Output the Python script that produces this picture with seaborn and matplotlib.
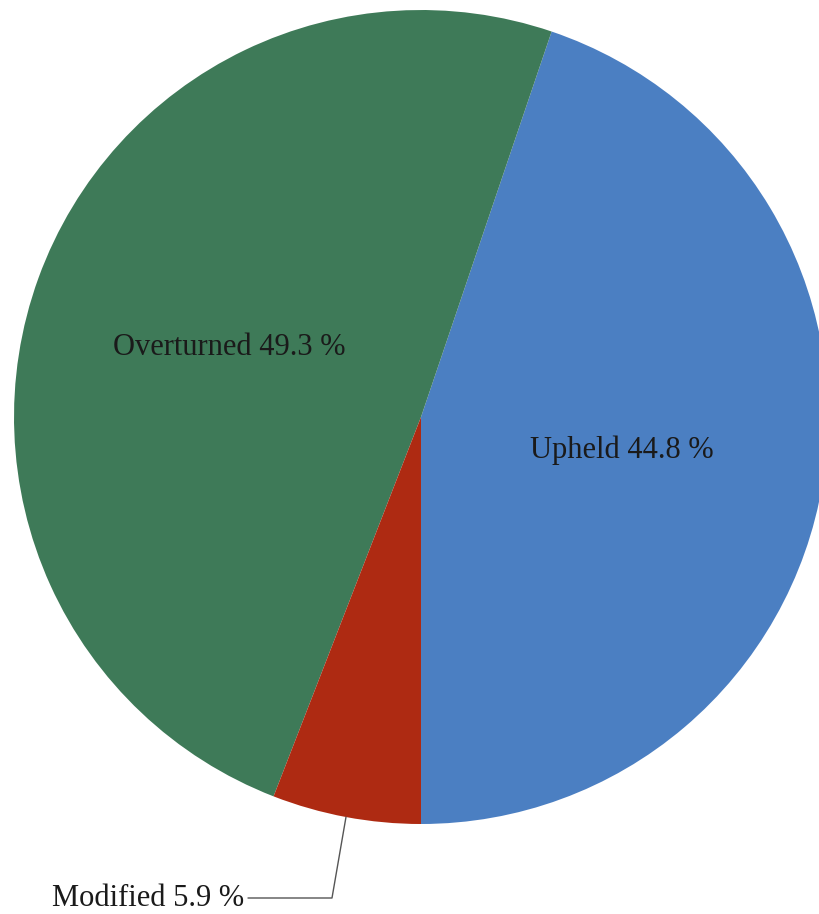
import numpy as np
import matplotlib
matplotlib.use("Agg")
import matplotlib.pyplot as plt
import seaborn as sns

sns.set_theme(style="white")
plt.rcParams['font.family'] = ['Liberation Serif', 'DejaVu Serif']

# data
categories = ["Upheld", "Overturned", "Modified"]
shares = [44.8, 49.3, 5.9]
colours = ["#4b7fc2", "#3e7a58", "#ae2a12"]

W, H = 819, 914
cx, cy, r = 421, H - 417, 407

fig = plt.figure(figsize=(W / 100, H / 100), dpi=100)
ax = fig.add_axes([0, 0, 1, 1])

wedges, _ = ax.pie(shares, colors=colours, startangle=270, counterclock=True,
                   center=(cx, cy), radius=r, wedgeprops=dict(linewidth=0))
ax.set_xlim(0, W)
ax.set_ylim(0, H)
ax.set_aspect("equal")
ax.axis("off")

for w, name, val in zip(wedges, categories, shares):
    mid = np.deg2rad((w.theta1 + w.theta2) / 2)
    txt = f"{name} {val} %"
    if name == "Modified":
        # leader line from rim to label below the pie
        x0, y0 = cx + r * np.cos(mid), cy + r * np.sin(mid)
        ex, ey = x0 - 14, 16
        ax.plot([x0, ex, ex - 84], [y0, ey, ey], color="#555555", lw=1)
        ax.text(ex - 88, ey, txt, ha="right", va="center", fontsize=22, color="#1a1a1a")
    else:
        ax.text(cx + 0.5 * r * np.cos(mid), cy + 0.5 * r * np.sin(mid), txt,
                ha="center", va="center", fontsize=22, color="#1a1a1a")

fig.savefig("out.png", dpi=100)
